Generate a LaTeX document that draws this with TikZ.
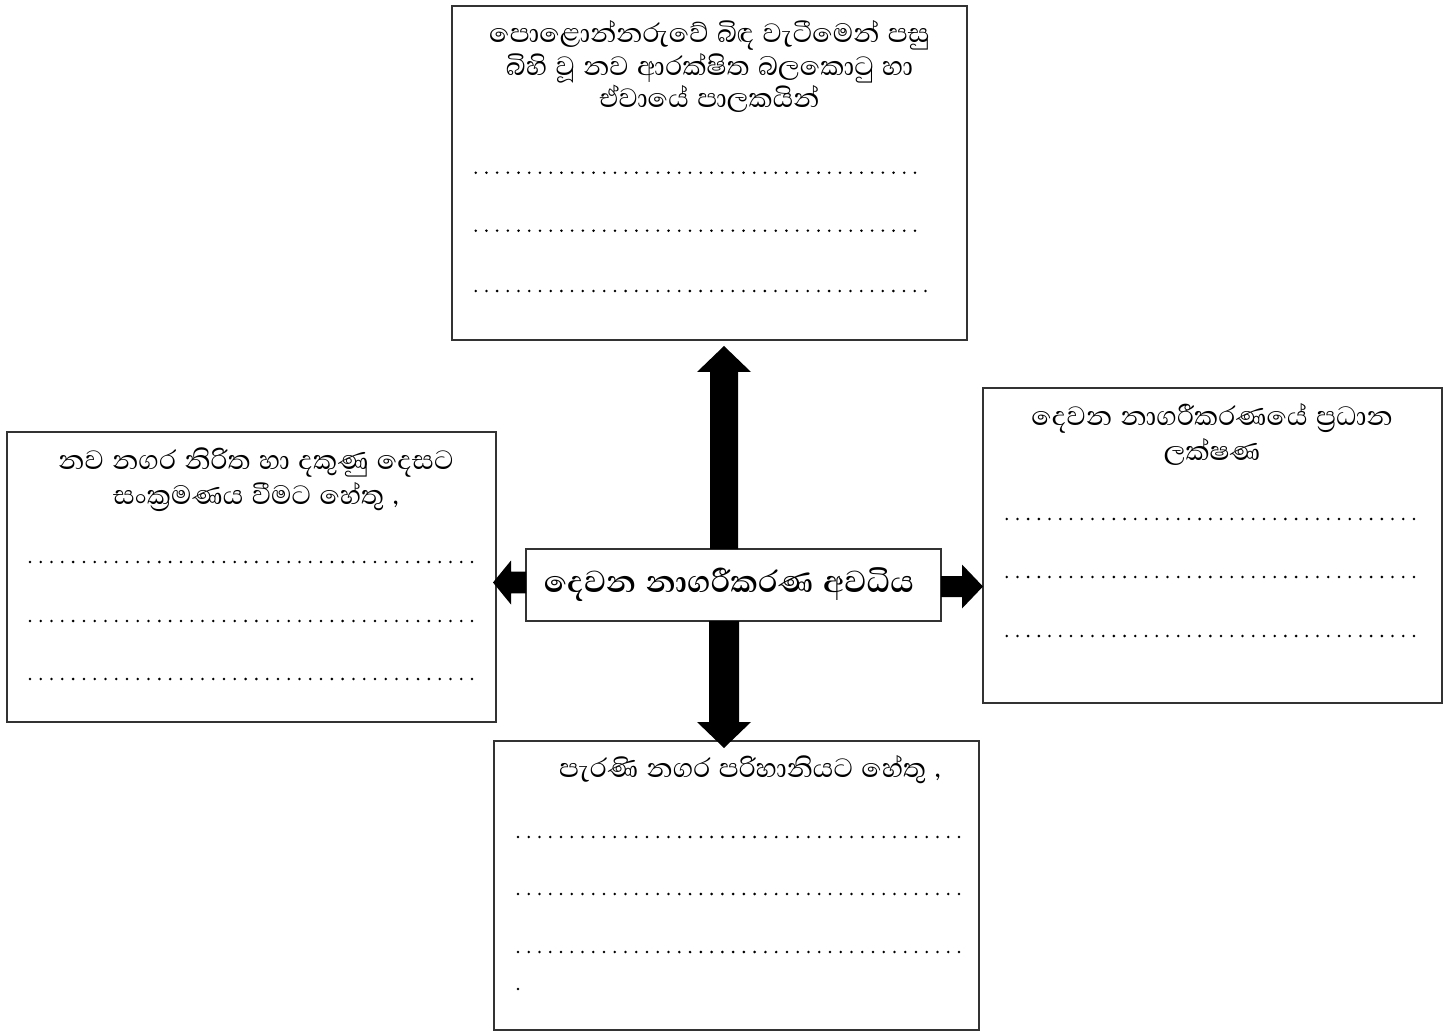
\documentclass[tikz,border=0pt]{standalone}
\usepackage{fontspec}
\newfontfamily\sinhala[Script=Sinhala,WordSpace=1.3]{Abhaya Libre}
\usetikzlibrary{calc}
\tikzset{
  box/.style={draw=black!80, line width=1.3pt, fill=white, inner sep=0pt, outer sep=0pt, anchor=north west},
  ttl/.style={inner sep=0pt, align=center, font=\sinhala\fontsize{34}{35}\selectfont},
  blk/.style={fill=black},
  dotc/.style={fill=black}
}
\newcommand{\dotrow}[4]{%
  \pgfmathsetmacro{\dstep}{(#2-#1)/#4}%
  \foreach \i in {0,...,#4} \fill[dotc] ({#1+\i*\dstep},#3) circle (1.4);}
\begin{document}
\begin{tikzpicture}[x=1pt,y=-1pt]
\useasboundingbox (0,0) rectangle (1444,1032);
% boxes
\node[box, minimum width=515pt, minimum height=334pt] (top) at (452,6) {};
\node[box, minimum width=489pt, minimum height=290pt] (left) at (7,432) {};
\node[box, minimum width=459pt, minimum height=315pt] (right) at (983,388) {};
\node[box, minimum width=485pt, minimum height=289pt] (bottom) at (494,741) {};
\node[box, minimum width=415pt, minimum height=72pt] (c) at (526,549) {};
% titles
\node[ttl, font=\sinhala\fontsize{34}{32.5}\selectfont] (topT) at (709.5,66.5) {පොළොන්නරුවේ බිඳ වැටීමෙන් පසු\\බිහි වූ නව ආරක්ෂිත බලකොටු හා\\ඒවායේ පාලකයින්};
\node[ttl] (leftT) at (256,479.5) {නව නගර නිරිත හා දකුණු දෙසට\\සංක්^^^^200dරමණය වීමට හේතු ,};
\node[ttl] (rightT) at (1212,434.5) {දෙවන නාගරීකරණයේ ප්^^^^200dරධාන\\ලක්ෂණ};
\node[ttl] (bottomT) at (750,770) {පැරණි නගර පරිහානියට හේතු ,};
\node[ttl, font=\sinhala\bfseries\fontsize{39}{40}\selectfont] (cT) at (729,585) {දෙවන නාගරීකරණ අවධිය};
% arrow tips
\coordinate (U) at (724,346);
\coordinate (D) at (724,748);
\coordinate (L) at (493,582.5);
\coordinate (R) at (983,586.5);
% up arrow
\fill[blk] ($(U|-c.north)+(-14,0)$) -- ($(U)+(-14,26)$) -- ($(U)+(-27,26)$) -- (U)
  -- ($(U)+(27,26)$) -- ($(U)+(14,26)$) -- ($(U|-c.north)+(14,0)$) -- cycle;
% down arrow
\fill[blk] ($(D|-c.south)+(-15,0)$) -- ($(D)+(-15,-26)$) -- ($(D)+(-27,-26)$) -- (D)
  -- ($(D)+(27,-26)$) -- ($(D)+(15,-26)$) -- ($(D|-c.south)+(15,0)$) -- cycle;
% left arrow
\fill[blk] ($(L-|c.west)+(0,-10.8)$) -- ($(L)+(18,-10.8)$) -- ($(L)+(18,-22)$) -- (L)
  -- ($(L)+(18,22)$) -- ($(L)+(18,10.8)$) -- ($(L-|c.west)+(0,10.8)$) -- cycle;
% right arrow
\fill[blk] ($(R-|c.east)+(0,-10.5)$) -- ($(R)+(-21,-10.5)$) -- ($(R)+(-21,-22)$) -- (R)
  -- ($(R)+(-21,22)$) -- ($(R)+(-21,10.5)$) -- ($(R-|c.east)+(0,10.5)$) -- cycle;
% dotted answer lines
\dotrow{475.7}{915}{172.7}{41}
\dotrow{475.7}{915}{230.7}{41}
\dotrow{475.7}{925.5}{291}{42}
\dotrow{30}{472}{562}{41}
\dotrow{30}{472}{621}{41}
\dotrow{30}{472}{679}{41}
\dotrow{1006.7}{1414}{519}{38}
\dotrow{1006.7}{1414}{577}{38}
\dotrow{1006.7}{1414}{636}{38}
\dotrow{518}{959}{837}{41}
\dotrow{518}{959}{894}{41}
\dotrow{518}{959}{952}{41}
\fill[dotc] (518,989) circle (1.4);
\end{tikzpicture}
\end{document}
